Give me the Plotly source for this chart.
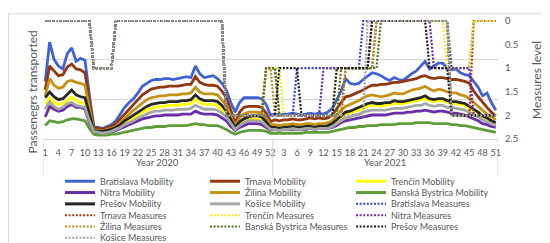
import plotly.graph_objects as go

# --- data -----------------------------------------------------------------
weeks_2020 = list(range(1, 53))
weeks_2021 = list(range(1, 52))

regions = ["Bratislava", "Trnava", "Trenčín", "Nitra",
           "Žilina", "Banská Bystrica", "Prešov", "Košice"]

# passengers transported (relative units), 2020 weeks 1-52 and 2021 weeks 1-51
mob_2020 = {
    "Bratislava": [60, 101, 83, 76, 73, 89, 95, 81, 84, 82,
                   46, 13, 12, 11, 13, 15, 19, 26, 33, 38,
                   42, 48, 55, 58, 61, 62, 62, 63, 63, 62,
                   63, 64, 65, 64, 76, 68, 64, 65, 66, 63,
                   58, 51, 38, 28, 38, 43, 43, 43, 43, 42,
                   36, 25],
    "Trnava": [51, 76, 71, 66, 67, 75, 78, 73, 72, 69,
               40, 12, 11, 10, 12, 13, 16, 21, 27, 32,
               36, 41, 46, 49, 52, 53, 54, 54, 55, 55,
               55, 56, 57, 57, 65, 59, 57, 56, 56, 55,
               50, 43, 30, 17, 28, 33, 34, 34, 34, 33,
               27, 18],
    "Trenčín": [36, 43, 38, 36, 37, 41, 44, 40, 38, 37,
                22, 8, 7, 7, 8, 9, 11, 14, 17, 20,
                22, 25, 28, 30, 32, 33, 34, 34, 35, 35,
                35, 36, 36, 37, 41, 38, 36, 36, 36, 35,
                31, 26, 18, 11, 16, 19, 21, 21, 21, 20,
                16, 11],
    "Nitra": [23, 34, 31, 29, 30, 34, 36, 33, 33, 31,
              17, 7, 6, 6, 7, 7, 9, 11, 13, 15,
              17, 19, 21, 22, 23, 24, 24, 25, 25, 25,
              25, 26, 26, 26, 29, 27, 26, 26, 26, 25,
              22, 19, 13, 9, 12, 14, 16, 16, 16, 15,
              12, 9],
    "Žilina": [45, 63, 56, 53, 54, 60, 61, 59, 58, 56,
               32, 10, 9, 8, 10, 11, 13, 17, 22, 26,
               30, 34, 38, 41, 43, 44, 45, 45, 46, 46,
               46, 47, 47, 48, 54, 49, 47, 47, 47, 46,
               41, 35, 24, 14, 22, 26, 28, 28, 28, 27,
               22, 15],
    "Banská Bystrica": [14, 19, 18, 17, 18, 20, 21, 21, 20, 19,
                        11, 5, 4, 4, 4, 5, 5, 6, 7, 8,
                        9, 10, 11, 12, 12, 13, 13, 13, 14, 14,
                        14, 14, 14, 15, 16, 15, 15, 14, 14, 14,
                        12, 10, 7, 5, 7, 8, 9, 9, 9, 9,
                        8, 6],
    "Prešov": [43, 49, 44, 41, 42, 47, 51, 46, 44, 43,
               25, 9, 8, 8, 9, 10, 12, 15, 19, 22,
               25, 28, 31, 34, 36, 37, 38, 38, 39, 39,
               39, 40, 40, 41, 46, 42, 40, 40, 40, 39,
               35, 29, 20, 12, 18, 21, 23, 24, 24, 23,
               18, 12],
    "Košice": [31, 39, 34, 31, 33, 37, 38, 35, 34, 33,
               19, 8, 7, 6, 7, 8, 10, 12, 15, 17,
               19, 22, 24, 26, 28, 29, 29, 30, 30, 30,
               31, 31, 31, 32, 35, 33, 31, 31, 31, 30,
               27, 23, 16, 10, 14, 17, 19, 19, 19, 18,
               14, 10],
}
mob_2021 = {
    "Bratislava": [26, 25, 26, 26, 27, 26, 25, 26, 27, 26,
                   27, 26, 28, 32, 41, 50, 63, 58, 57, 58,
                   62, 66, 69, 68, 66, 63, 61, 64, 62, 61,
                   65, 68, 71, 76, 81, 73, 76, 79, 79, 74,
                   72, 73, 69, 67, 66, 60, 54, 45, 48, 38,
                   30],
    "Trnava": [20, 19, 20, 20, 21, 20, 20, 21, 22, 21,
               22, 21, 22, 25, 32, 38, 44, 45, 47, 49,
               51, 54, 56, 56, 57, 57, 58, 59, 59, 60,
               61, 62, 63, 65, 66, 64, 63, 64, 64, 63,
               62, 62, 61, 60, 58, 50, 44, 38, 33, 28,
               24],
    "Trenčín": [11, 10, 11, 11, 12, 11, 11, 12, 12, 11,
                12, 12, 13, 15, 18, 22, 26, 27, 29, 30,
                32, 34, 35, 35, 34, 35, 36, 37, 37, 37,
                38, 39, 40, 41, 42, 40, 39, 40, 40, 38,
                37, 37, 36, 35, 32, 29, 26, 22, 20, 18,
                15],
    "Nitra": [10, 9, 10, 10, 10, 10, 10, 10, 11, 10,
              11, 11, 11, 12, 14, 17, 19, 20, 21, 22,
              23, 24, 25, 25, 25, 25, 26, 27, 27, 27,
              28, 28, 29, 29, 30, 29, 28, 29, 29, 28,
              27, 27, 26, 25, 23, 21, 19, 16, 15, 13,
              12],
    "Žilina": [15, 14, 15, 15, 16, 15, 15, 16, 16, 15,
               16, 16, 17, 19, 25, 30, 34, 36, 38, 40,
               43, 45, 46, 45, 44, 45, 46, 48, 47, 47,
               49, 51, 52, 53, 55, 52, 50, 52, 51, 49,
               48, 48, 46, 45, 42, 38, 34, 29, 26, 23,
               20],
    "Banská Bystrica": [6, 6, 6, 6, 6, 6, 6, 7, 7, 7,
                        7, 7, 7, 8, 9, 10, 11, 12, 12, 13,
                        13, 14, 14, 14, 15, 15, 15, 15, 16, 16,
                        16, 16, 17, 17, 17, 17, 16, 16, 16, 16,
                        15, 15, 14, 14, 13, 12, 11, 10, 9, 8,
                        7],
    "Prešov": [12, 11, 12, 12, 13, 12, 12, 13, 13, 12,
               13, 13, 14, 16, 20, 24, 28, 29, 31, 33,
               35, 37, 38, 37, 37, 38, 38, 40, 39, 39,
               40, 41, 42, 43, 45, 42, 41, 42, 42, 40,
               39, 39, 38, 37, 34, 31, 28, 24, 22, 19,
               17],
    "Košice": [10, 9, 10, 10, 11, 10, 10, 11, 11, 10,
               11, 11, 11, 13, 16, 19, 22, 23, 25, 26,
               28, 29, 30, 30, 30, 30, 31, 32, 32, 32,
               33, 34, 35, 35, 37, 35, 34, 35, 35, 33,
               33, 32, 31, 30, 28, 25, 23, 20, 18, 16,
               14],
}

# measures level (0 = none ... 2 = strict)
meas_2020 = {
    "Bratislava": [0, 0, 0, 0, 0, 0, 0, 0, 0, 0,  0, 1, 1, 1, 1, 1, 0, 0, 0, 0,
                   0, 0, 0, 0, 0, 0, 0, 0, 0, 0,  0, 0, 0, 0, 0, 0, 0, 0, 0, 0,
                   0, 2, 2, 2, 2, 2, 2, 2, 2, 2,  2, 2],
    "Trnava": [0, 0, 0, 0, 0, 0, 0, 0, 0, 0,  0, 1, 1, 1, 1, 1, 0, 0, 0, 0,
               0, 0, 0, 0, 0, 0, 0, 0, 0, 0,  0, 0, 0, 0, 0, 0, 0, 0, 0, 0,
               0, 2, 2, 2, 2, 2, 2, 2, 2, 2,  1, 1],
    "Trenčín": [0, 0, 0, 0, 0, 0, 0, 0, 0, 0,  0, 1, 1, 1, 1, 1, 0, 0, 0, 0,
                0, 0, 0, 0, 0, 0, 0, 0, 0, 0,  0, 0, 0, 0, 0, 0, 0, 0, 0, 0,
                0, 2, 2, 2, 2, 2, 2, 2, 2, 2,  1, 1],
    "Nitra": [0, 0, 0, 0, 0, 0, 0, 0, 0, 0,  0, 1, 1, 1, 1, 1, 0, 0, 0, 0,
              0, 0, 0, 0, 0, 0, 0, 0, 0, 0,  0, 0, 0, 0, 0, 0, 0, 0, 0, 0,
              0, 2, 2, 2, 2, 2, 2, 2, 2, 2,  2, 2],
    "Žilina": [0, 0, 0, 0, 0, 0, 0, 0, 0, 0,  0, 1, 1, 1, 1, 1, 0, 0, 0, 0,
               0, 0, 0, 0, 0, 0, 0, 0, 0, 0,  0, 0, 0, 0, 0, 0, 0, 0, 0, 0,
               0, 2, 2, 2, 2, 2, 2, 2, 2, 2,  1, 1],
    "Banská Bystrica": [0, 0, 0, 0, 0, 0, 0, 0, 0, 0,  0, 1, 1, 1, 1, 1, 0, 0, 0, 0,
                        0, 0, 0, 0, 0, 0, 0, 0, 0, 0,  0, 0, 0, 0, 0, 0, 0, 0, 0, 0,
                        0, 2, 2, 2, 2, 2, 2, 2, 2, 2,  1, 1],
    "Prešov": [0, 0, 0, 0, 0, 0, 0, 0, 0, 0,  0, 1, 1, 1, 1, 1, 0, 0, 0, 0,
               0, 0, 0, 0, 0, 0, 0, 0, 0, 0,  0, 0, 0, 0, 0, 0, 0, 0, 0, 0,
               0, 2, 2, 2, 2, 2, 2, 2, 2, 2,  2, 2],
    "Košice": [0, 0, 0, 0, 0, 0, 0, 0, 0, 0,  0, 1, 1, 1, 1, 1, 0, 0, 0, 0,
               0, 0, 0, 0, 0, 0, 0, 0, 0, 0,  0, 0, 0, 0, 0, 0, 0, 0, 0, 0,
               0, 2, 2, 2, 2, 2, 2, 2, 2, 2,  2, 2],
}
meas_2021 = {
    "Bratislava": [2, 2, 2, 2, 2, 1, 1, 1, 1, 1,  1, 1, 1, 1, 1, 1, 1, 1, 1, 1,
                   0, 0, 0, 0, 0, 0, 0, 0, 0, 0,  0, 0, 0, 0, 0, 0, 0, 0, 0, 0,
                   1, 1, 1, 1, 1, 0, 0, 0, 0, 0,  0],
    "Trnava": [1, 2, 2, 2, 2, 2, 2, 2, 2, 2,  2, 2, 2, 2, 2, 2, 1, 1, 1, 1,
               1, 1, 1, 0, 0, 0, 0, 0, 0, 0,  0, 0, 0, 0, 0, 0, 0, 0, 0, 0,
               2, 2, 2, 2, 2, 0, 0, 0, 0, 0,  0],
    "Trenčín": [1, 1, 2, 2, 2, 2, 2, 2, 2, 2,  2, 2, 2, 2, 1, 1, 1, 1, 1, 1,
                1, 1, 0, 0, 0, 0, 0, 0, 0, 0,  0, 0, 0, 0, 0, 0, 0, 0, 0, 1,
                1, 1, 1, 1, 1, 0, 0, 0, 0, 0,  0],
    "Nitra": [2, 2, 2, 2, 2, 2, 2, 2, 2, 2,  2, 1, 1, 1, 1, 1, 1, 1, 1, 1,
              1, 1, 0, 0, 0, 0, 0, 0, 0, 0,  0, 0, 0, 0, 0, 0, 1, 1, 1, 1,
              1, 1, 1, 1, 1, 2, 2, 2, 2, 2,  2],
    "Žilina": [2, 2, 2, 2, 2, 2, 2, 2, 2, 2,  2, 2, 2, 2, 2, 2, 1, 1, 1, 1,
               1, 1, 1, 0, 0, 0, 0, 0, 0, 0,  0, 0, 0, 0, 0, 0, 0, 0, 0, 0,
               2, 2, 2, 2, 2, 2, 2, 2, 2, 2,  2],
    "Banská Bystrica": [1, 2, 2, 2, 2, 2, 2, 2, 2, 2,  2, 2, 2, 2, 2, 1, 1, 1, 1, 1,
                        1, 1, 1, 1, 0, 0, 0, 0, 0, 0,  0, 0, 0, 0, 0, 0, 0, 0, 0, 0,
                        2, 2, 2, 2, 2, 2, 2, 2, 2, 2,  2],
    "Prešov": [2, 1, 1, 1, 1, 1, 2, 2, 2, 2,  2, 2, 2, 2, 1, 1, 1, 1, 1, 1,
               1, 1, 0, 0, 0, 0, 0, 0, 0, 0,  0, 0, 0, 0, 0, 1, 1, 1, 1, 1,
               2, 2, 2, 2, 2, 2, 2, 2, 2, 2,  2],
    "Košice": [2, 2, 2, 2, 2, 2, 2, 2, 2, 2,  2, 2, 2, 2, 2, 2, 2, 2, 2, 2,
               2, 0, 0, 0, 0, 0, 0, 0, 0, 0,  0, 0, 0, 0, 0, 0, 0, 0, 0, 0,
               2, 2, 2, 2, 2, 2, 2, 2, 2, 2,  2],
}

mob_colors = {
    "Bratislava": "#4062D2", "Trnava": "#93370F", "Trenčín": "#FFFF00",
    "Nitra": "#6A2DA8", "Žilina": "#C49215", "Banská Bystrica": "#5E9E38",
    "Prešov": "#262626", "Košice": "#A6A6A6",
}
meas_colors = {
    "Bratislava": "#3447C0", "Trnava": "#B0381A", "Trenčín": "#F5EC10",
    "Nitra": "#6A2DA8", "Žilina": "#B8901E", "Banská Bystrica": "#4A7324",
    "Prešov": "#1A1A1A", "Košice": "#A8A0A8",
}

# --- figure ----------------------------------------------------------------
weeks_all = weeks_2020 + weeks_2021
x_idx = list(range(len(weeks_all)))
tick_idx = [i for i in x_idx if i % 3 == 0]
tick_txt = [str(weeks_all[i]) for i in tick_idx]

FONT = "Lato"
GREY = "#595959"
DOTS = "2px,1.6px"

fig = go.Figure()

for r in regions:
    fig.add_trace(go.Scatter(
        x=x_idx, y=mob_2020[r] + mob_2021[r],
        mode="lines", name=f"{r} Mobility",
        line=dict(color=mob_colors[r], width=2.8),
    ))

for r in regions:
    fig.add_trace(go.Scatter(
        x=x_idx, y=meas_2020[r] + meas_2021[r],
        mode="lines", name=f"{r} Measures", yaxis="y2",
        line=dict(color=meas_colors[r], width=2.2, dash=DOTS),
    ))

n20 = len(weeks_2020)
n_all = len(weeks_all)

# pixel -> paper helpers (plot area: x 35..490, y 7..131)
def px(v):
    return (v - 35) / 455


def py(v):
    return (131 - v) / 124


shapes = [
    # Excel style category-axis box
    dict(type="line", xref="x", yref="paper", x0=xv, x1=xv, y0=0, y1=py(170),
         line=dict(color="#D9D9D9", width=1))
    for xv in (-0.5, n20 - 0.5, n_all - 0.5)
]
shapes.append(dict(type="rect", xref="paper", yref="paper",
                   x0=px(0.5), x1=px(549.5), y0=py(242.5), y1=py(0.5),
                   line=dict(color="#D9D9D9", width=1)))

annotations = [
    dict(text="Year 2020", xref="x", yref="paper", x=(n20 - 1) / 2, y=py(163),
         showarrow=False, font=dict(size=9.5, color=GREY, family=FONT)),
    dict(text="Year 2021", xref="x", yref="paper", x=(n20 + n_all - 1) / 2, y=py(163),
         showarrow=False, font=dict(size=9.5, color=GREY, family=FONT)),
    dict(text="Passenegrs transported", xref="paper", yref="paper",
         x=px(15), y=py(82), textangle=-90, showarrow=False,
         font=dict(size=12, color=GREY, family=FONT)),
    dict(text="Measures level", xref="paper", yref="paper",
         x=px(538), y=py(70), textangle=-90, showarrow=False,
         font=dict(size=12, color=GREY, family=FONT)),
]

# hand-placed legend (3 columns, row-major like the original)
legend_items = ([(f"{r} Mobility", mob_colors[r], None) for r in regions]
                + [(f"{r} Measures", meas_colors[r], DOTS) for r in regions])
col_x = [57, 202, 348]
for k, (label, color, dash) in enumerate(legend_items):
    row, col = divmod(k, 3)
    yc = 175 + row * 11.8
    x0 = col_x[col]
    line = dict(color=color, width=3 if dash is None else 2)
    if dash:
        line["dash"] = dash
    shapes.append(dict(type="line", xref="paper", yref="paper",
                       x0=px(x0), x1=px(x0 + 30), y0=py(yc), y1=py(yc), line=line))
    annotations.append(dict(text=label, xref="paper", yref="paper",
                            x=px(x0 + 33), y=py(yc), xanchor="left", yanchor="middle",
                            showarrow=False,
                            font=dict(size=9, color=GREY, family=FONT)))

fig.update_layout(
    width=550, height=243,
    margin=dict(l=35, r=60, t=7, b=112),
    paper_bgcolor="white", plot_bgcolor="white",
    font=dict(family=FONT, color=GREY, size=9),
    showlegend=False,
    xaxis=dict(
        range=[-0.5, n_all - 0.5], tickmode="array",
        tickvals=tick_idx, ticktext=tick_txt,
        tickfont=dict(size=9, color=GREY, family=FONT),
        ticks="outside", ticklen=5, tickcolor="rgba(0,0,0,0)", tickangle=0,
        showline=True, linecolor="#D9D9D9", linewidth=1,
        showgrid=False, zeroline=False,
    ),
    yaxis=dict(
        range=[0, 124], tick0=0, dtick=124 / 3,
        showticklabels=False, showgrid=True, gridcolor="#D9D9D9",
        zeroline=False,
    ),
    yaxis2=dict(
        overlaying="y", side="right", range=[2.5, -0.015],
        tickmode="array", tickvals=[0, 0.5, 1, 1.5, 2, 2.5],
        ticktext=["0", "0.5", "1", "1.5", "2", "2.5"],
        tickfont=dict(size=9.5, color=GREY, family=FONT),
        ticks="outside", ticklen=4, tickcolor="rgba(0,0,0,0)",
        showgrid=False, zeroline=False,
    ),
    shapes=shapes,
    annotations=annotations,
)

fig.write_html("out.html")
